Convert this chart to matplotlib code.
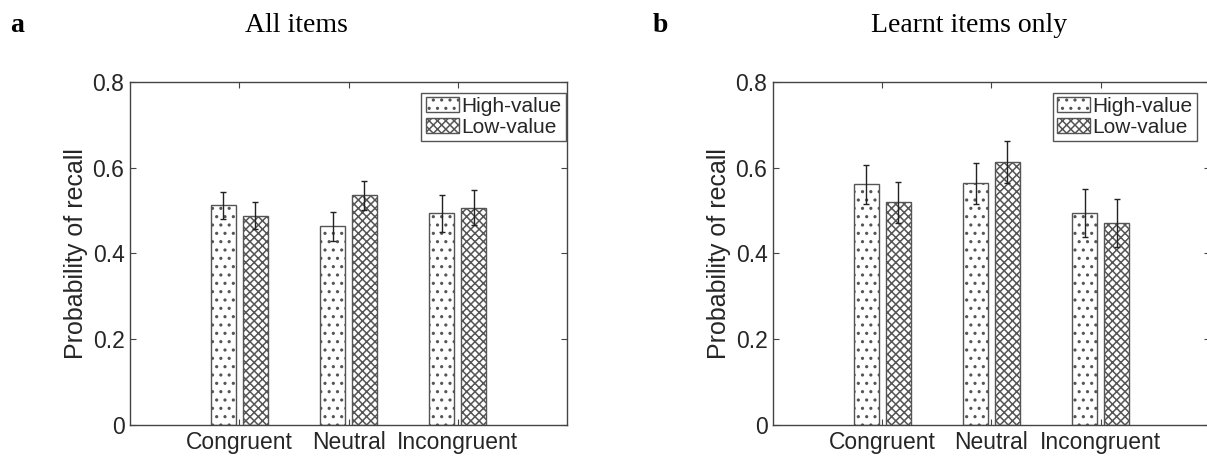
import numpy as np
import matplotlib
matplotlib.use("Agg")
import matplotlib.pyplot as plt

# recall probabilities per condition (mean and s.e.m.)
conditions = ["Congruent", "Neutral", "Incongruent"]
series_names = ["High-value", "Low-value"]

all_high = [0.512, 0.463, 0.494]
all_low = [0.488, 0.536, 0.507]
all_high_err = [0.032, 0.034, 0.043]
all_low_err = [0.032, 0.034, 0.041]

learnt_high = [0.561, 0.564, 0.494]
learnt_low = [0.519, 0.613, 0.470]
learnt_high_err = [0.046, 0.048, 0.056]
learnt_low_err = [0.048, 0.049, 0.056]

plt.rcParams["font.family"] = ["Liberation Sans", "DejaVu Sans"]
plt.rcParams["hatch.linewidth"] = 1.1
plt.rcParams["hatch.color"] = "#111111"

W, H = 1207, 461
fig = plt.figure(figsize=(W / 100, H / 100), dpi=100)

spine_col = "#444444"
text_col = "#262626"


def draw_panel(ax, high, low, high_err, low_err, legend_x):
    x = np.arange(1, len(conditions) + 1)
    off, width = 0.145, 0.23
    ax.bar(x - off, high, width, color="white", edgecolor="#555555",
           linewidth=1.0, hatch="..", label=series_names[0], zorder=2)
    ax.bar(x + off, low, width, color="white", edgecolor="#555555",
           linewidth=1.0, hatch="xxxx", label=series_names[1], zorder=2)
    ax.errorbar(x - off, high, yerr=high_err, fmt="none", ecolor="#222222",
                elinewidth=1.0, capsize=2, capthick=1.0, zorder=3)
    ax.errorbar(x + off, low, yerr=low_err, fmt="none", ecolor="#222222",
                elinewidth=1.0, capsize=2, capthick=1.0, zorder=3)

    ax.set_xlim(0, 4)
    ax.set_ylim(0, 0.8)
    ax.set_xticks(x)
    ax.set_xticklabels(conditions)
    ax.set_yticks([0, 0.2, 0.4, 0.6, 0.8])
    ax.set_yticklabels(["0", "0.2", "0.4", "0.6", "0.8"])
    ax.tick_params(direction="in", length=4, width=0.8, top=True, right=True,
                   labelsize=16.5, colors=spine_col, labelcolor=text_col, pad=4)
    for s in ax.spines.values():
        s.set_color(spine_col)
        s.set_linewidth(1.0)
    ax.set_ylabel("Probability of recall", fontsize=18, color=text_col, labelpad=3)

    leg = ax.legend(loc="upper right", bbox_to_anchor=(legend_x, 0.969),
                    borderaxespad=0, fancybox=False, framealpha=1,
                    edgecolor="#555555", fontsize=15, handlelength=1.6,
                    handleheight=0.7, handletextpad=0.12, labelspacing=0.1,
                    borderpad=0.2)
    leg.get_frame().set_linewidth(1.0)
    for t in leg.get_texts():
        t.set_color(text_col)


ax1 = fig.add_axes([130 / W, 36 / H, 437 / W, 343 / H])
draw_panel(ax1, all_high, all_low, all_high_err, all_low_err, 0.997)

ax2 = fig.add_axes([773 / W, 36 / H, 437 / W, 343 / H])
draw_panel(ax2, learnt_high, learnt_low, learnt_high_err, learnt_low_err, 0.970)

serif = ["Liberation Serif", "DejaVu Serif"]
fig.text(10 / W, 1 - 25 / H, "a", family=serif, fontsize=20, fontweight="bold",
         ha="left", va="center")
fig.text(296 / W, 1 - 25 / H, "All items", family=serif, fontsize=20,
         ha="center", va="center")
fig.text(653 / W, 1 - 25 / H, "b", family=serif, fontsize=20, fontweight="bold",
         ha="left", va="center")
fig.text(969 / W, 1 - 25 / H, "Learnt items only", family=serif, fontsize=20,
         ha="center", va="center")

fig.savefig("out.png", dpi=100)
